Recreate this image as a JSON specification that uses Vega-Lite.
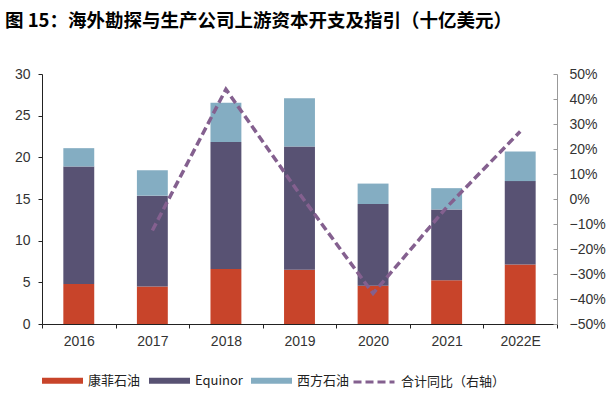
{
  "$schema": "https://vega.github.io/schema/vega-lite/v6.json",
  "autosize": {"type": "none"},
  "padding": {"left": 42, "top": 74, "right": 51, "bottom": 75},
  "width": 515,
  "height": 250,
  "background": "white",
  "title": {
    "text": "图 15：海外勘探与生产公司上游资本开支及指引（十亿美元）",
    "anchor": "start",
    "frame": "group",
    "dx": -37,
    "offset": 37,
    "font": "Noto Sans CJK SC",
    "fontSize": 18.5,
    "fontWeight": "bold",
    "color": "#000000"
  },
  "config": {
    "view": {"stroke": null},
    "axis": {
      "labelFont": "Liberation Sans",
      "labelFontSize": 14,
      "labelColor": "#333333",
      "grid": false,
      "title": null
    },
    "legend": {
      "labelFont": "Noto Sans CJK SC",
      "labelFontSize": 13,
      "labelColor": "#222222"
    }
  },
  "datasets": {
    "bars": [
      {"year": "2016", "company": "康菲石油", "k": 1, "value": 4.8},
      {"year": "2016", "company": "Equinor", "k": 2, "value": 14.1},
      {"year": "2016", "company": "西方石油", "k": 3, "value": 2.2},
      {"year": "2017", "company": "康菲石油", "k": 1, "value": 4.5},
      {"year": "2017", "company": "Equinor", "k": 2, "value": 10.9},
      {"year": "2017", "company": "西方石油", "k": 3, "value": 3.05},
      {"year": "2018", "company": "康菲石油", "k": 1, "value": 6.6},
      {"year": "2018", "company": "Equinor", "k": 2, "value": 15.25},
      {"year": "2018", "company": "西方石油", "k": 3, "value": 4.7},
      {"year": "2019", "company": "康菲石油", "k": 1, "value": 6.5},
      {"year": "2019", "company": "Equinor", "k": 2, "value": 14.8},
      {"year": "2019", "company": "西方石油", "k": 3, "value": 5.8},
      {"year": "2020", "company": "康菲石油", "k": 1, "value": 4.6},
      {"year": "2020", "company": "Equinor", "k": 2, "value": 9.8},
      {"year": "2020", "company": "西方石油", "k": 3, "value": 2.45},
      {"year": "2021", "company": "康菲石油", "k": 1, "value": 5.25},
      {"year": "2021", "company": "Equinor", "k": 2, "value": 8.5},
      {"year": "2021", "company": "西方石油", "k": 3, "value": 2.55},
      {"year": "2022E", "company": "康菲石油", "k": 1, "value": 7.15},
      {"year": "2022E", "company": "Equinor", "k": 2, "value": 10.0},
      {"year": "2022E", "company": "西方石油", "k": 3, "value": 3.55}
    ],
    "growth": [
      {"year": "2017", "series": "合计同比（右轴）", "yoy": -0.126},
      {"year": "2018", "series": "合计同比（右轴）", "yoy": 0.439},
      {"year": "2019", "series": "合计同比（右轴）", "yoy": 0.021},
      {"year": "2020", "series": "合计同比（右轴）", "yoy": -0.378},
      {"year": "2021", "series": "合计同比（右轴）", "yoy": -0.033},
      {"year": "2022E", "series": "合计同比（右轴）", "yoy": 0.27}
    ]
  },
  "encoding": {
    "x": {
      "field": "year",
      "type": "ordinal",
      "sort": ["2016", "2017", "2018", "2019", "2020", "2021", "2022E"],
      "scale": {"domain": ["2016", "2017", "2018", "2019", "2020", "2021", "2022E"], "paddingInner": 0, "paddingOuter": 0},
      "axis": {
        "labelAngle": 0,
        "tickBand": "extent",
        "domainColor": "#222222",
        "tickColor": "#222222",
        "tickSize": 4,
        "labelPadding": 6
      }
    }
  },
  "layer": [
    {
      "data": {"name": "bars"},
      "mark": {"type": "bar", "width": {"band": 0.42}},
      "encoding": {
        "y": {
          "field": "value",
          "type": "quantitative",
          "stack": "zero",
          "scale": {"domain": [0, 30], "nice": false},
          "axis": {
            "values": [0, 5, 10, 15, 20, 25, 30],
            "domainColor": "#222222",
            "tickColor": "#222222",
            "tickSize": 4,
            "labelPadding": 8
          }
        },
        "color": {
          "field": "company",
          "type": "nominal",
          "scale": {
            "domain": ["康菲石油", "Equinor", "西方石油"],
            "range": ["#c8442a", "#585273", "#84adc2"]
          },
          "legend": {
            "orient": "none",
            "direction": "horizontal",
            "legendX": 0,
            "legendY": 286,
            "title": null,
            "symbolType": "M-1,-0.15H1V0.15H-1Z",
            "symbolSize": 1681,
            "symbolStrokeWidth": 0,
            "symbolOpacity": 1,
            "labelOffset": 5,
            "columnPadding": 8
          }
        },
        "order": {"field": "k", "type": "quantitative"}
      }
    },
    {
      "data": {"name": "growth"},
      "mark": {"type": "line", "color": "#84608f", "strokeWidth": 3.5, "strokeDash": [10, 6]},
      "encoding": {
        "y": {
          "field": "yoy",
          "type": "quantitative",
          "scale": {"domain": [-0.5, 0.5], "nice": false},
          "axis": {
            "orient": "right",
            "format": ".0%",
            "values": [-0.5, -0.4, -0.3, -0.2, -0.1, 0, 0.1, 0.2, 0.3, 0.4, 0.5],
            "domainColor": "#999999",
            "tickColor": "#999999",
            "tickSize": -4,
            "labelPadding": 16
          }
        },
        "strokeDash": {
          "field": "series",
          "type": "nominal",
          "scale": {"range": [[8, 4]]},
          "legend": {
            "orient": "none",
            "direction": "horizontal",
            "legendX": 310,
            "legendY": 286,
            "title": null,
            "symbolType": "stroke",
            "symbolSize": 1681,
            "symbolStrokeColor": "#84608f",
            "symbolStrokeWidth": 3,
            "labelOffset": 5
          }
        }
      }
    }
  ],
  "resolve": {"scale": {"y": "independent"}}
}
